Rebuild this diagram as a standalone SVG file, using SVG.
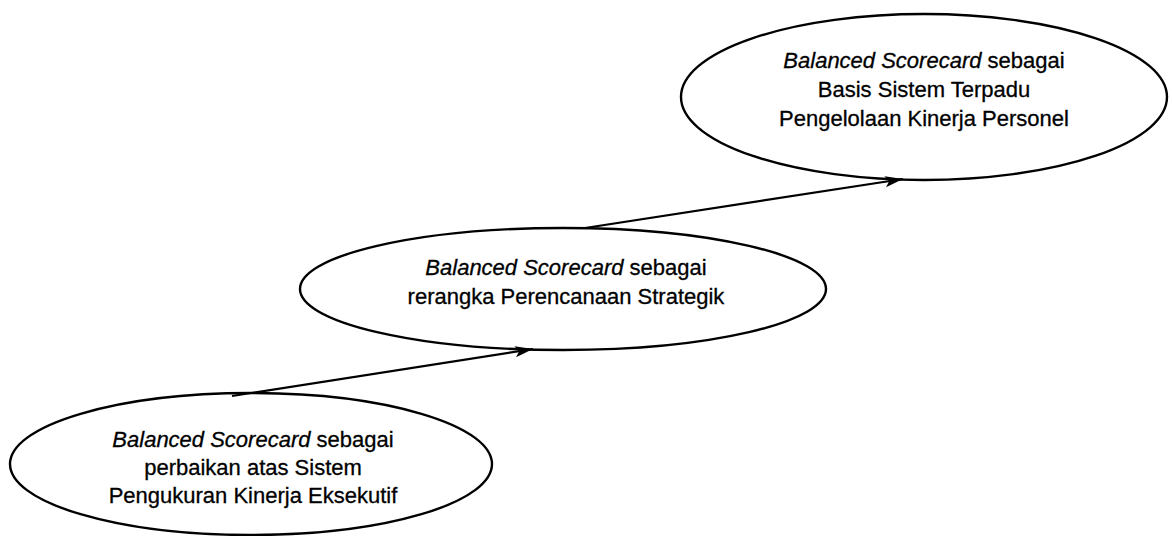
<svg xmlns="http://www.w3.org/2000/svg" width="1172" height="536" viewBox="0 0 1172 536">
  <defs>
    <marker id="arrow" markerWidth="20" markerHeight="12" refX="18" refY="6" orient="auto" markerUnits="userSpaceOnUse">
      <path d="M0,0.5 L18,6 L0,11.5 L4,6 Z" fill="#000"/>
    </marker>
    <style>
      .node ellipse { fill: none; stroke: #000; stroke-width: 2.4; }
      .node text { font-family: "Liberation Sans", Arial, sans-serif; font-size: 22px; fill: #000; stroke: #000; stroke-width: 0.3; text-anchor: middle; }
      .it { font-style: italic; }
      .conn line { stroke: #000; stroke-width: 2.2; }
    </style>
  </defs>
  <rect width="1172" height="536" fill="#fff"/>

  <g id="connectors" class="conn">
    <line x1="232" y1="396" x2="533" y2="349" marker-end="url(#arrow)"/>
    <line x1="585" y1="228" x2="903" y2="179" marker-end="url(#arrow)"/>
  </g>

  <g id="node-top" class="node">
    <ellipse cx="924" cy="97" rx="243" ry="83"/>
    <text x="924" y="68"><tspan class="it">Balanced Scorecard</tspan> sebagai</text>
    <text x="924" y="97">Basis Sistem Terpadu</text>
    <text x="924" y="126">Pengelolaan Kinerja Personel</text>
  </g>

  <g id="node-middle" class="node">
    <ellipse cx="563" cy="289" rx="263" ry="61"/>
    <text x="566" y="275"><tspan class="it">Balanced Scorecard</tspan> sebagai</text>
    <text x="566" y="304">rerangka Perencanaan Strategik</text>
  </g>

  <g id="node-bottom" class="node">
    <ellipse cx="251" cy="464" rx="241" ry="71"/>
    <text x="253" y="447"><tspan class="it">Balanced Scorecard</tspan> sebagai</text>
    <text x="253" y="475">perbaikan atas Sistem</text>
    <text x="253" y="503">Pengukuran Kinerja Eksekutif</text>
  </g>
</svg>
